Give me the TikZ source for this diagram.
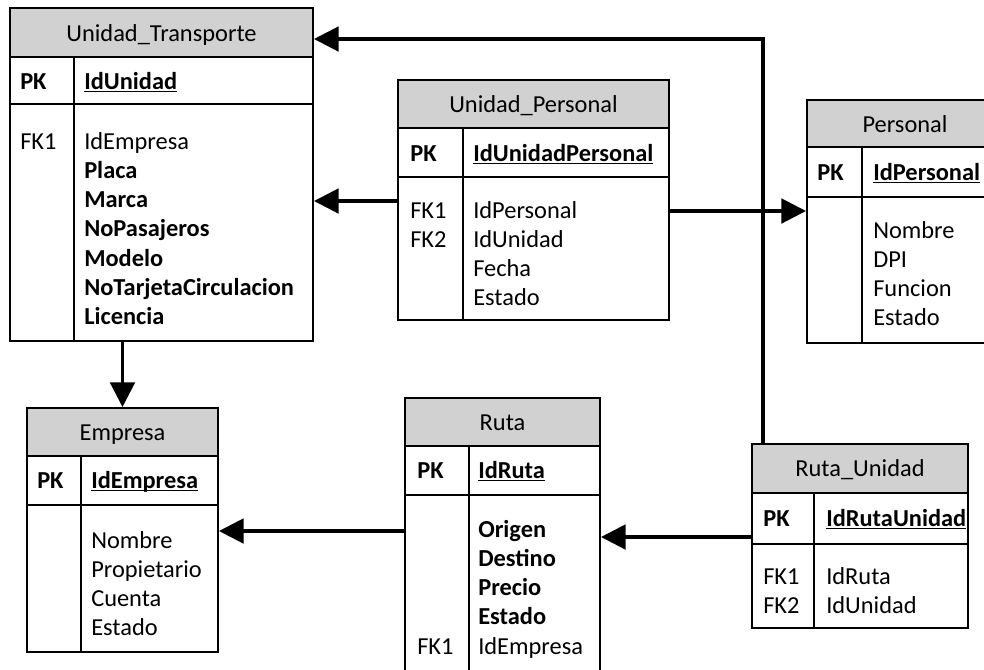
\documentclass[tikz,border=0pt]{standalone}
\usepackage{fontspec}
\setmainfont{Carlito}
\usetikzlibrary{arrows.meta,fit}
\definecolor{hdrgray}{RGB}{209,209,209}

% key column entry: bold with a fixed-depth underline
\newcommand\pkul[1]{\setbox0\hbox{\bfseries #1}\rlap{\rule[-2.6pt]{\wd0}{1.3pt}}\box0}

% entity table: name, left, top, right, divider, header bottom, key-row bottom, bottom
\newcommand\ertable[8]{%
  \fill[hdrgray] (#2,#3) rectangle (#4,#6);
  \node[tbl, fit={(#2,#3) (#4,#8)}] (#1) {};
  \draw[tbl] (#2,#6) -- (#4,#6) (#2,#7) -- (#4,#7) (#5,#6) -- (#5,#8);
}

% a column of attribute lines: name prefix, x, first baseline, list of entries
\newcommand\attrcol[4]{%
  \foreach \t [count=\i] in {#4} {
    \node[txt] (#1\i) at (#2,{#3+29.3*(\i-1)}) {\t};
  }
}

\begin{document}
\begin{tikzpicture}[x=0.75pt,y=-0.75pt,
  tbl/.style={draw=black,line width=1.5pt,inner sep=0pt},
  txt/.style={anchor=base west,inner sep=0pt,font=\fontsize{18.3}{22}\selectfont},
  ttl/.style={anchor=base,inner sep=0pt,font=\fontsize{18.3}{22}\selectfont},
  conn/.style={line width=2.3pt,-{Triangle[length=18.5pt,width=18.5pt]}}]
\useasboundingbox (0,0) rectangle (984,669);
\clip (0,0) rectangle (984,669);

% ---------- Unidad_Transporte ----------
\ertable{ut}{10}{8}{313}{74}{57}{104}{341}
\node[ttl] (utT) at (161.5,41) {Unidad\_Transporte};
\node[txt] (utPK) at (20,89) {\bfseries PK};
\node[txt] (utK) at (84,89) {\pkul{IdUnidad}};
\node[txt] (utF) at (20,149) {FK1};
\attrcol{utA}{84}{149}{IdEmpresa,{\bfseries Placa},{\bfseries Marca},{\bfseries NoPasajeros},{\bfseries Modelo},{\bfseries NoTarjetaCirculacion},{\bfseries Licencia}}

% ---------- Unidad_Personal ----------
\ertable{up}{398}{80}{669}{463}{128}{177}{320}
\node[ttl] (upT) at (533.5,112) {Unidad\_Personal};
\node[txt] (upPK) at (410,161) {\bfseries PK};
\node[txt] (upK) at (473,161) {\pkul{IdUnidadPersonal}};
\attrcol{upF}{410}{218}{FK1,FK2}
\attrcol{upA}{473}{218}{IdPersonal,IdUnidad,Fecha,Estado}

% ---------- Personal ----------
\ertable{pe}{807}{100}{1003}{862}{147}{197}{343}
\node[ttl] (peT) at (905,132) {Personal};
\node[txt] (pePK) at (817,180) {\bfseries PK};
\node[txt] (peK) at (873,180) {\pkul{IdPersonal}};
\attrcol{peA}{873}{238}{Nombre,DPI,Funcion,Estado}

% ---------- Empresa ----------
\ertable{em}{27}{408}{218}{81}{456}{505}{652}
\node[ttl] (emT) at (122.5,440) {Empresa};
\node[txt] (emPK) at (37,488) {\bfseries PK};
\node[txt] (emK) at (91,488) {\pkul{IdEmpresa}};
\attrcol{emA}{91}{548}{Nombre,Propietario,Cuenta,Estado}

% ---------- Ruta ----------
\ertable{ru}{405}{398}{600}{469}{446}{495}{700}
\node[ttl] (ruT) at (502.5,430) {Ruta};
\node[txt] (ruPK) at (417,478) {\bfseries PK};
\node[txt] (ruK) at (478,478) {\pkul{IdRuta}};
\attrcol{ruA}{478}{537}{{\bfseries Origen},{\bfseries Destino},{\bfseries Precio},{\bfseries Estado},IdEmpresa}
\node[txt] (ruF) at (417,654) {FK1};

% ---------- Ruta_Unidad ----------
\ertable{rn}{752}{444}{968}{814}{493}{544}{628}
\node[ttl] (rnT) at (860,476) {Ruta\_Unidad};
\node[txt] (rnPK) at (763,526) {\bfseries PK};
\node[txt] (rnK) at (826,526) {\pkul{IdRutaUnidad}};
\attrcol{rnF}{763}{584}{FK1,FK2}
\attrcol{rnA}{826}{584}{IdRuta,IdUnidad}

% ---------- relationships ----------
\coordinate (bend) at (763,39);
\draw[conn] (bend |- rn.north) -- (bend) -- (bend -| ut.east);
\draw[conn] (up.west |- 0,201) -- (ut.east |- 0,201);
\draw[conn] (up.east |- 0,211) -- (pe.west |- 0,211);
\draw[conn] (em.north |- ut.south) -- (em.north);
\draw[conn] (ru.west |- 0,531) -- (em.east |- 0,531);
\draw[conn] (rn.west |- 0,537) -- (ru.east |- 0,537);
\end{tikzpicture}
\end{document}
